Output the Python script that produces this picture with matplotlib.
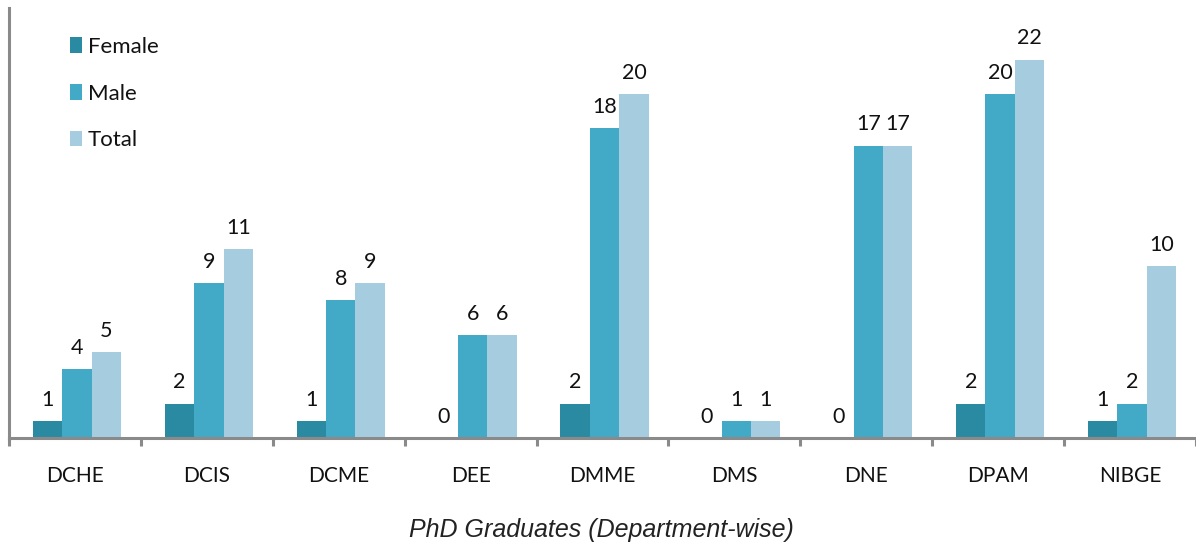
import matplotlib
matplotlib.use("Agg")
import matplotlib.pyplot as plt
import numpy as np

departments = ["DCHE", "DCIS", "DCME", "DEE", "DMME", "DMS", "DNE", "DPAM", "NIBGE"]
female = [1, 2, 1, 0, 2, 0, 0, 2, 1]
male = [4, 9, 8, 6, 18, 1, 17, 20, 2]
total = [5, 11, 9, 6, 20, 1, 17, 22, 10]
series_names = ["Female", "Male", "Total"]
colors = ["#2A8AA2", "#42A9C6", "#A6CDDF"]

W, H = 1196, 543
fig = plt.figure(figsize=(W / 100, H / 100), dpi=100)
ax = fig.add_axes([9 / W, 1 - 438 / H, (W - 9) / W, (438 - 8) / H])

font = "Lato"
x = np.arange(len(departments))
bw = 0.223
shift = 0.015
for i, (vals, name, c) in enumerate(zip([female, male, total], series_names, colors)):
    pos = x + shift + (i - 1) * bw
    ax.bar(pos, vals, width=bw, color=c, label=name, zorder=2)
    for px, v in zip(pos, vals):
        ax.annotate(str(v), (px, v), xytext=(0, 8), textcoords="offset points",
                    ha="center", va="bottom", fontsize=15.5, family=font, color="#111111")

ax.set_xlim(-0.5, len(departments) - 0.5)
ax.set_ylim(0, 25)
ax.set_yticks([])
ax.set_xticks(x)
ax.set_xticklabels(departments, family=font, fontsize=15, color="#111111")
ax.tick_params(axis="x", which="major", length=0, pad=20)
ax.set_xticks(np.arange(-0.5, len(departments)), minor=True)
ax.tick_params(axis="x", which="minor", length=6, width=2.2, color="#8A8A8A")
for s in ["top", "right"]:
    ax.spines[s].set_visible(False)
for s in ["left", "bottom"]:
    ax.spines[s].set_color("#8A8A8A")
    ax.spines[s].set_linewidth(2.2)
    ax.spines[s].set_zorder(3)

fig.text(601 / W, 1 - 530 / H, "PhD Graduates (Department-wise)", ha="center", va="center",
         fontsize=18, style="italic", family="Liberation Sans", color="#222222")

leg = ax.legend(loc="upper left", bbox_to_anchor=(61 / W, 1 - 28 / H), bbox_transform=fig.transFigure,
                frameon=False, prop={"family": font, "size": 16}, handlelength=0.55, handleheight=0.7,
                handletextpad=0.25, labelspacing=1.2, borderaxespad=0)
for t in leg.get_texts():
    t.set_color("#111111")

fig.savefig("out.png", dpi=100)
